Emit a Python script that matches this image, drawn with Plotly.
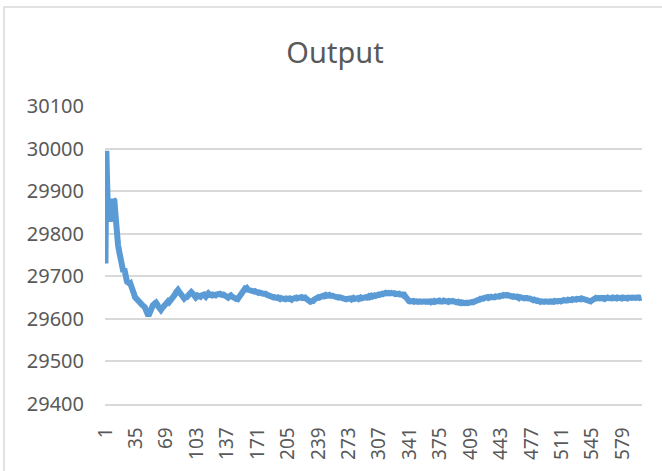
import plotly.graph_objects as go

title_text = "Output"
y_ticks = [29400, 29500, 29600, 29700, 29800, 29900, 30000, 30100]
x_tick_labels = [1, 35, 69, 103, 137, 171, 205, 239, 273, 307, 341, 375, 409, 443, 477, 511, 545, 579]

output_values = [
    29730, 29995, 29910, 29840, 29875, 29828, 29860, 29882, 29855, 29880,
    29878, 29850, 29810, 29785, 29775, 29762, 29748, 29755, 29735, 29728,
    29710, 29718, 29700, 29695, 29688, 29684, 29690, 29680, 29682, 29676,
    29672, 29665, 29658, 29651, 29648, 29645, 29643, 29640, 29641, 29637,
    29635, 29633, 29631, 29630, 29627, 29622, 29616, 29610, 29607, 29612,
    29620, 29627, 29629, 29632, 29634, 29630, 29634, 29637, 29634, 29629,
    29625, 29622, 29621, 29624, 29627, 29630, 29634, 29637, 29635, 29640,
    29641, 29639, 29642, 29644, 29642, 29645, 29648, 29653, 29658, 29663,
    29666, 29668, 29665, 29661, 29657, 29654, 29651, 29649, 29648, 29650,
    29649, 29651, 29654, 29657, 29660, 29662, 29663, 29661, 29658, 29655,
    29652, 29650, 29652, 29655, 29653, 29651, 29652, 29655, 29657, 29659,
    29657, 29654, 29652, 29655, 29658, 29660, 29658, 29656, 29654, 29655,
    29657, 29656, 29654, 29655, 29657, 29658, 29656, 29657, 29659, 29657,
    29655, 29656, 29657, 29655, 29653, 29654, 29652, 29650, 29652, 29654,
    29655, 29653, 29651, 29650, 29649, 29648, 29647, 29648, 29647, 29650,
    29654, 29658, 29662, 29666, 29669, 29668, 29671, 29670, 29672, 29669,
    29668, 29667, 29668, 29666, 29665, 29666, 29664, 29665, 29663, 29664,
    29663, 29661, 29662, 29660, 29661, 29660, 29659, 29660, 29658, 29659,
    29657, 29656, 29655, 29653, 29654, 29652, 29651, 29652, 29650, 29651,
    29650, 29648, 29649, 29650, 29648, 29647, 29649, 29648, 29647, 29649,
    29647, 29646, 29648, 29647, 29645, 29647, 29648, 29646, 29645, 29647,
    29648, 29646, 29648, 29650, 29648, 29649, 29650, 29648, 29650, 29651,
    29649, 29650, 29652, 29650, 29648, 29646, 29645, 29643, 29642, 29640,
    29641, 29640, 29642, 29645, 29647, 29649, 29648, 29650, 29651, 29650,
    29652, 29651, 29653, 29654, 29653, 29655, 29656, 29654, 29656, 29655,
    29656, 29654, 29655, 29656, 29654, 29653, 29652, 29653, 29651, 29652,
    29650, 29651, 29652, 29650, 29649, 29648, 29649, 29647, 29648, 29646,
    29647, 29648, 29646, 29647, 29648, 29646, 29648, 29649, 29647, 29648,
    29650, 29648, 29649, 29647, 29649, 29650, 29648, 29649, 29651, 29650,
    29652, 29651, 29650, 29652, 29653, 29651, 29653, 29654, 29652, 29654,
    29653, 29655, 29654, 29656, 29655, 29657, 29656, 29658, 29657, 29659,
    29658, 29660, 29659, 29661, 29660, 29662, 29661, 29660, 29662, 29661,
    29660, 29661, 29659, 29660, 29658, 29659, 29657, 29658, 29659, 29657,
    29658, 29656, 29657, 29655, 29656, 29653, 29649, 29646, 29644, 29642,
    29641, 29642, 29640, 29641, 29642, 29640, 29641, 29639, 29641, 29640,
    29642, 29641, 29640, 29642, 29640, 29641, 29643, 29641, 29640, 29642,
    29641, 29640, 29642, 29641, 29639, 29641, 29640, 29642, 29640, 29641,
    29642, 29640, 29641, 29643, 29641, 29640, 29642, 29641, 29643, 29642,
    29641, 29643, 29642, 29640, 29642, 29641, 29643, 29641, 29642, 29640,
    29641, 29640, 29639, 29641, 29640, 29638, 29640, 29639, 29637, 29639,
    29638, 29637, 29638, 29636, 29638, 29637, 29638, 29637, 29639, 29638,
    29640, 29639, 29641, 29640, 29642, 29643, 29644, 29643, 29645, 29647,
    29646, 29648, 29647, 29649, 29650, 29648, 29650, 29651, 29649, 29651,
    29650, 29652, 29651, 29650, 29652, 29651, 29653, 29652, 29651, 29653,
    29652, 29654, 29653, 29655, 29654, 29656, 29655, 29657, 29655, 29656,
    29655, 29654, 29655, 29653, 29654, 29652, 29653, 29651, 29650, 29651,
    29652, 29650, 29649, 29651, 29650, 29648, 29650, 29649, 29648, 29649,
    29647, 29649, 29648, 29646, 29648, 29647, 29645, 29646, 29644, 29645,
    29643, 29644, 29642, 29643, 29641, 29642, 29640, 29641, 29640, 29642,
    29640, 29641, 29639, 29641, 29640, 29642, 29640, 29641, 29640, 29642,
    29641, 29640, 29642, 29641, 29643, 29641, 29642, 29640, 29642, 29641,
    29643, 29642, 29644, 29643, 29642, 29644, 29643, 29645, 29644, 29643,
    29645, 29644, 29646, 29645, 29644, 29646, 29645, 29647, 29646, 29645,
    29647, 29646, 29648, 29647, 29649, 29648, 29647, 29645, 29643, 29641,
    29640, 29639, 29641, 29643, 29645, 29647, 29648, 29647, 29649, 29648,
    29650, 29649, 29648, 29650, 29649, 29648, 29650, 29649, 29647, 29649,
    29648, 29650, 29649, 29648, 29650, 29649, 29648, 29650, 29649, 29647,
    29649, 29648, 29650, 29649, 29648, 29650, 29649, 29648, 29650, 29649,
    29648, 29650, 29649, 29648, 29650, 29649, 29651, 29650, 29649, 29650,
    29649, 29651, 29650, 29649, 29650, 29648, 29650, 29649, 29651, 29650,
]

categories = list(range(1, len(output_values) + 1))

W, H = 662, 471
L, R, T, B = 105, 20, 106, 67
pw = W - L - R
ph = H - T - B

fig = go.Figure()
fig.add_trace(go.Scatter(
    x=categories, y=output_values, mode="lines",
    line=dict(color="#5B9BD5", width=6),
    hoverinfo="skip", showlegend=False,
))

font_family = "Noto Sans, Open Sans, sans-serif"
grey = "#595959"

fig.update_layout(
    width=W, height=H,
    margin=dict(l=L, r=R, t=T, b=B, pad=0),
    paper_bgcolor="white", plot_bgcolor="white",
    title=dict(
        text=title_text,
        font=dict(family=font_family, size=29, color=grey),
        xref="paper", x=(335 - L) / pw, xanchor="center",
        yref="container", y=1 - 53 / H, yanchor="middle",
    ),
    xaxis=dict(
        range=[0.5, len(output_values) + 0.5],
        tickmode="array",
        tickvals=x_tick_labels,
        ticktext=[str(v) for v in x_tick_labels],
        tickangle=-90,
        tickfont=dict(family=font_family, size=19, color=grey),
        showgrid=False, zeroline=False,
        showline=True, linecolor="#D9D9D9", linewidth=1.5,
        ticks="", ticklabelstandoff=14,
    ),
    yaxis=dict(
        range=[y_ticks[0], y_ticks[-1]],
        tickmode="array",
        tickvals=y_ticks,
        ticktext=[str(v) for v in y_ticks],
        tickfont=dict(family=font_family, size=20, color=grey),
        showgrid=True, gridcolor="#D9D9D9", gridwidth=1.5,
        zeroline=False, showline=False,
        ticks="", ticklabelstandoff=20,
    ),
    shapes=[dict(
        type="rect", xref="paper", yref="paper",
        x0=(4 - L) / pw, x1=(W + 5 - L) / pw,
        y0=-(H + 5 - (H - B)) / ph, y1=((H - B) - 7) / ph,
        line=dict(color="#D9D9D9", width=1.5), layer="below",
    )],
)

fig.write_html("out.html")
